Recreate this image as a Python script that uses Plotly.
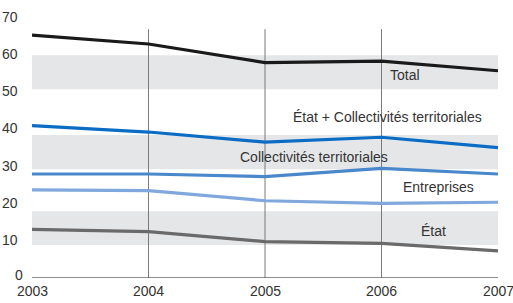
import plotly.graph_objects as go

years = [2003, 2004, 2005, 2006, 2007]
total = [65.4, 63.0, 58.0, 58.4, 55.8]
etat_coll = [41.0, 39.3, 36.6, 37.9, 35.1]
collectivites = [28.0, 28.0, 27.3, 29.5, 28.0]
entreprises = [23.7, 23.5, 20.8, 20.1, 20.4]
etat = [13.1, 12.5, 9.8, 9.3, 7.3]

y_ticks = [0, 10, 20, 30, 40, 50, 60, 70]
bands = [(50.85, 60.0), (29.3, 38.5), (8.9, 18.0)]
vlines_years = [2004, 2005, 2006]

series = [
    ("Total", total, "#1a1a1a"),
    ("État + Collectivités territoriales", etat_coll, "#0a6cc4"),
    ("Collectivités territoriales", collectivites, "#4a88cc"),
    ("Entreprises", entreprises, "#80a8dc"),
    ("État", etat, "#6a6a6a"),
]
# label positions (x in years, y in values)
labels = [
    ("Total", 2006.2, 54.6),
    ("État + Collectivités territoriales", 2006.05, 43.3),
    ("Collectivités territoriales", 2005.42, 32.5),
    ("Entreprises", 2006.49, 24.6),
    ("État", 2006.45, 12.6),
]

FONT = "Liberation Sans Narrow, Liberation Sans, Arial, sans-serif"
TICKFONT = dict(family=FONT, size=14, color="#333333")

fig = go.Figure()
shapes = []
for y0, y1 in bands:
    shapes.append(dict(type="rect", xref="x", yref="y", x0=2002.985, x1=2007.02,
                       y0=y0, y1=y1, fillcolor="#e5e6e8", line_width=0, layer="below"))
for yr in vlines_years:
    shapes.append(dict(type="line", xref="x", yref="y", x0=yr, x1=yr, y0=-1.2, y1=67,
                       line=dict(color="#7a7a7a", width=1), layer="below"))
shapes.append(dict(type="line", xref="x", yref="y", x0=2002.99, x1=2007.01, y0=0, y1=0,
                   line=dict(color="#666666", width=1.5)))
for yr in [2003, 2007]:
    shapes.append(dict(type="line", xref="x", yref="y", x0=yr, x1=yr, y0=0, y1=-1.4,
                       line=dict(color="#666666", width=1.5)))

for name, vals, col in series:
    fig.add_trace(go.Scatter(x=years, y=vals, mode="lines", name=name,
                             line=dict(color=col, width=3.2), showlegend=False,
                             hoverinfo="skip", cliponaxis=False))

annotations = []
for text, x, y in labels:
    annotations.append(dict(x=x, y=y, xref="x", yref="y", text=text, showarrow=False,
                            font=dict(family=FONT, size=14, color="#333333"),
                            xanchor="center", yanchor="middle"))
# x tick labels
for yr in years:
    annotations.append(dict(x=yr, y=0, xref="x", yref="y", text=str(yr), showarrow=False,
                            font=TICKFONT, xanchor="center", yanchor="middle", yshift=-13))
# y tick labels
for v in y_ticks:
    annotations.append(dict(x=0, y=v, xref="paper", yref="y", text=str(v), showarrow=False,
                            font=TICKFONT, xanchor="right", yanchor="middle",
                            xshift=(-7 if v == 0 else -12), yshift=(3 if v == 0 else 1)))

fig.update_layout(
    width=513, height=303,
    margin=dict(l=32, r=15, t=18, b=25, autoexpand=False),
    paper_bgcolor="white", plot_bgcolor="white",
    shapes=shapes, annotations=annotations,
    xaxis=dict(range=[2003, 2007], showticklabels=False, automargin=False,
               showgrid=False, zeroline=False, showline=False, ticks="", fixedrange=True),
    yaxis=dict(range=[0, 70], showticklabels=False, automargin=False,
               showgrid=False, zeroline=False, showline=False, ticks="", fixedrange=True),
)

fig.write_html("out.html", config={"displayModeBar": False},
               post_script="document.body.style.margin='0';document.body.style.overflow='hidden';")
